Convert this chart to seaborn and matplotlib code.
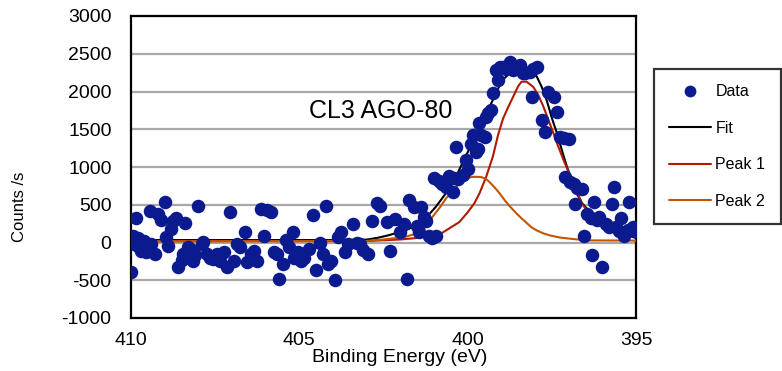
import matplotlib
matplotlib.use("Agg")
import matplotlib.pyplot as plt
import seaborn as sns
from matplotlib.lines import Line2D

# Measured points (binding energy in eV, counts per second)
data_be = [
    410.00, 409.95, 409.90, 409.85, 409.80, 409.75, 409.70, 409.60, 409.55, 409.45,
    409.40, 409.30, 409.20, 409.10, 409.00, 408.95, 408.90, 408.80, 408.75, 408.65,
    408.60, 408.50, 408.45, 408.40, 408.30, 408.20, 408.15, 408.10, 408.00, 407.90,
    407.85, 407.75, 407.65, 407.55, 407.45, 407.35, 407.25, 407.15, 407.05, 406.95,
    406.85, 406.75, 406.60, 406.55, 406.45, 406.35, 406.25, 406.15, 406.05, 405.95,
    405.85, 405.75, 405.65, 405.60, 405.50, 405.40, 405.30, 405.20, 405.15, 405.05,
    404.95, 404.85, 404.70, 404.60, 404.50, 404.40, 404.30, 404.20, 404.15, 404.05,
    403.95, 403.85, 403.75, 403.65, 403.55, 403.40, 403.30, 403.20, 403.10, 402.95,
    402.85, 402.70, 402.60, 402.40, 402.30, 402.15, 402.00, 401.90, 401.80, 401.75,
    401.60, 401.50, 401.45, 401.40, 401.30, 401.25, 401.15, 401.05, 400.95, 401.00,
    400.85, 400.75, 400.65, 400.55, 400.45, 400.40, 400.30, 400.35, 400.15, 400.05,
    400.00, 399.90, 399.85, 399.75, 399.70, 399.65, 399.60, 399.50, 399.45, 399.40,
    399.30, 399.25, 399.15, 399.10, 399.05, 398.95, 398.85, 398.75, 398.65, 398.60,
    398.45, 398.35, 398.30, 398.15, 398.10, 398.05, 397.95, 397.80, 397.70, 397.60,
    397.45, 397.35, 397.25, 397.15, 397.00, 397.10, 396.95, 396.85, 396.75, 396.60,
    396.80, 396.55, 396.45, 396.35, 396.25, 396.30, 396.15, 396.10, 396.00, 395.90,
    395.80, 395.70, 395.65, 395.60, 395.50, 395.45, 395.35, 395.25, 395.20, 395.10,
    395.05,
]
data_counts = [
    -390, 90, -20, 330, 60, -60, -110, 20, -130, 420,
    -20, -150, 380, 300, 530, 70, -40, 180, 290, 320,
    -330, -230, -150, 260, -60, -100, -240, -170, 480, -20,
    10, -150, -200, -220, -150, -240, -130, -330, 410, -240,
    -20, -60, 140, -260, -150, -110, -240, 450, 90, 430,
    400, -130, -150, -480, -280, 30, -60, 140, -200, -130,
    -240, -200, -90, 370, -370, 0, -150, 490, -280, -240,
    -500, 70, 140, -130, -20, 250, 0, -20, -100, -150,
    290, 520, 480, 270, -110, 310, 140, 250, -480, 560,
    470, 220, 140, 470, 340, 290, 90, 60, 90, 850,
    820, 780, 730, 880, 670, 860, 840, 1270, 900, 1090,
    980, 1310, 1420, 1200, 1240, 1580, 1420, 1400, 1660, 1720,
    1750, 1980, 2280, 2150, 2320, 2330, 2300, 2390, 2280, 2300,
    2350, 2250, 2240, 2260, 1930, 2300, 2330, 1620, 1470, 2000,
    1930, 1730, 1400, 1380, 1370, 870, 800, 780, 720, 710,
    510, 90, 380, 330, 540, -170, 300, 340, -330, 250,
    200, 510, 740, 200, 150, 330, 90, 160, 530, 200,
    150,
]

# Fit envelope
fit_be = [410.0, 404.0, 403.0, 402.7, 402.4, 402.0, 401.75, 401.45, 401.15, 400.95,
          400.65, 400.35, 400.05, 399.85, 399.65, 399.45, 399.25, 399.05, 398.9, 398.75,
          398.6, 398.4, 398.2, 397.95, 397.8, 397.65, 397.5, 397.35, 397.2, 397.05,
          396.9, 396.75, 396.6, 396.4, 396.2, 396.0, 395.8, 395.5, 395.2, 395.0]
fit_counts = [32, 32, 38, 60, 90, 140, 180, 250, 370, 470,
              650, 870, 1150, 1330, 1500, 1700, 1890, 2080, 2180, 2240,
              2270, 2280, 2270, 2200, 2060, 1880, 1650, 1450, 1220, 1000,
              820, 640, 520, 420, 320, 250, 200, 130, 90, 60]

# Peak 1
p1_be = [410.0, 403.0, 402.0, 401.5, 401.0, 400.75, 400.5, 400.25, 400.0, 399.8,
         399.65, 399.45, 399.25, 399.1, 398.95, 398.8, 398.65, 398.5, 398.4, 398.25,
         398.05, 397.9, 397.75, 397.6, 397.45, 397.3, 397.15, 397.0, 396.85, 396.7,
         396.6, 396.4, 396.2, 396.0, 395.8, 395.6, 395.4, 395.2, 395.0]
p1_counts = [18, 20, 40, 60, 90, 130, 200, 270, 400, 520,
             650, 870, 1140, 1420, 1640, 1790, 1930, 2070, 2130, 2130,
             2060, 1950, 1800, 1620, 1445, 1260, 1090, 930, 780, 620,
             510, 390, 290, 230, 180, 140, 115, 90, 70]

# Peak 2
p2_be = [410.0, 403.0, 402.5, 401.9, 401.5, 401.2, 401.05, 400.8, 400.65, 400.5,
         400.25, 400.1, 399.9, 399.75, 399.6, 399.45, 399.35, 399.2, 399.05, 398.9,
         398.75, 398.55, 398.4, 398.25, 398.1, 397.95, 397.75, 397.55, 397.25, 396.95,
         396.45, 395.0]
p2_counts = [15, 20, 40, 70, 120, 220, 336, 480, 580, 660,
             780, 830, 867, 870, 867, 840, 800, 730, 650, 560,
             480, 385, 320, 260, 200, 160, 120, 93, 65, 50,
             28, 25]

c_data = "#0b1a8f"
c_fit = "black"
c_p1 = "#b01a00"
c_p2 = "#c25500"

sns.set_theme(style="white")
plt.rcParams["font.family"] = ["Liberation Sans", "DejaVu Sans"]
plt.rcParams["axes.unicode_minus"] = False

fig = plt.figure(figsize=(7.82, 3.71), dpi=100)
ax = fig.add_axes([131 / 782, 1 - 318 / 371, 505 / 782, 302 / 371])

sns.lineplot(x=fit_be, y=fit_counts, color=c_fit, lw=1.5, ax=ax, zorder=2, estimator=None)
sns.lineplot(x=p1_be, y=p1_counts, color=c_p1, lw=1.5, ax=ax, zorder=3, estimator=None)
sns.lineplot(x=p2_be, y=p2_counts, color=c_p2, lw=1.5, ax=ax, zorder=3, estimator=None)
sns.scatterplot(x=data_be, y=data_counts, color=c_data, s=95, linewidth=0, ax=ax, zorder=4)

ax.set_xlim(410, 395)
ax.set_ylim(-1000, 3000)
ax.set_xticks([410, 405, 400, 395])
ax.set_yticks(range(-1000, 3001, 500))
ax.yaxis.grid(True, color="#a8a8a8", lw=1.6)
ax.xaxis.grid(False)
ax.set_axisbelow(True)
for sp in ax.spines.values():
    sp.set_color("black")
    sp.set_linewidth(1.6)
ax.tick_params(axis="both", length=0, labelsize=14, colors="black")
ax.tick_params(axis="y", pad=14)
ax.tick_params(axis="x", pad=10)

ax.set_xlabel("Binding Energy (eV)", fontsize=14, color="black")
ax.xaxis.set_label_coords(0.533, -0.103)
ax.set_ylabel("")
fig.text(19 / 782, 1 - 207 / 371, "Counts /s", rotation=90, ha="center", va="center",
         fontsize=12, color="black")

ax.text(402.58, 1740, "CL3 AGO-80", ha="center", va="center", fontsize=18, color="black")

handles = [
    Line2D([], [], ls="none", marker="o", markersize=8.5, color=c_data, markeredgewidth=0),
    Line2D([], [], color=c_fit, lw=1.5),
    Line2D([], [], color=c_p1, lw=1.5),
    Line2D([], [], color=c_p2, lw=1.5),
]
leg = fig.legend(handles, ["Data", "Fit", "Peak 1", "Peak 2"],
                 loc="upper left", bbox_to_anchor=(654 / 782, 1 - 69 / 371),
                 bbox_transform=fig.transFigure, borderaxespad=0, fontsize=11.5,
                 frameon=True, fancybox=False, handlelength=2.6, handletextpad=0.3,
                 labelspacing=1.35, borderpad=0.95)
leg.get_frame().set_edgecolor("black")
leg.get_frame().set_linewidth(1.6)
for t in leg.get_texts():
    t.set_color("black")

fig.savefig("out.png", dpi=100)
